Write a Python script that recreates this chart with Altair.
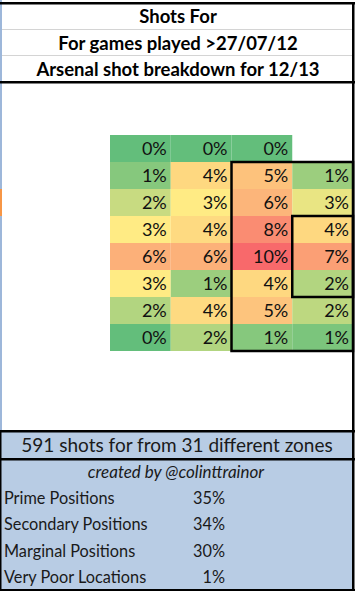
import altair as alt
import pandas as pd

# ---- data ----
titles = ["Shots For", "For games played >27/07/12", "Arsenal shot breakdown for 12/13"]
summary = "591 shots for from 31 different zones"
credit = "created by @colinttrainor"
stat_labels = ["Prime Positions", "Secondary Positions", "Marginal Positions", "Very Poor Locations"]
stat_values = [35, 34, 30, 1]

# shot share (%) per zone, rows top->bottom, cols left->right (None = no zone)
zone_pct = [
    [0.17, 0.17, 0.17, None],
    [0.8, 4.0, 5.2, 1.2],
    [2.0, 3.0, 5.9, 2.6],
    [3.0, 3.9, 8.1, 4.0],
    [6.2, 6.1, 10.0, 7.1],
    [3.0, 1.2, 4.0, 1.6],
    [1.6, 3.9, 5.1, 1.8],
    [0.17, 1.6, 0.8, 0.6],
]
# outlined zone groups in grid units: col0, col1, row0, row1
boxes_c0 = [2, 3]
boxes_c1 = [4, 4]
boxes_r0 = [1, 3]
boxes_r1 = [8, 6]

cells = pd.DataFrame(
    [{"row": r, "col": c, "pct": v}
     for r, rowv in enumerate(zone_pct) for c, v in enumerate(rowv) if v is not None]
)
boxes = pd.DataFrame({"c0": boxes_c0, "c1": boxes_c1, "r0": boxes_r0, "r1": boxes_r1})

FONT = "Lato"
W, H = 357, 593

xs = alt.Scale(domain=[0, 4], range=[110, 353], nice=False, zero=False)
ys = alt.Scale(domain=[0, 8], range=[135, 351], nice=False, zero=False)

dummy = pd.DataFrame({"a": [0]})


def block(x1, x2, y1, y2, color):
    return alt.Chart(dummy).mark_rect(color=color).encode(
        x=alt.value(x1), x2=alt.value(x2), y=alt.value(y1), y2=alt.value(y2)
    )


BLUE = "#B8CCE4"
decor = alt.layer(
    block(0, 354, 431, 590, BLUE),
    block(0, 2, 0, 431, "#9DB7DA"),
    block(0, 2, 189, 216, "#F79646"),
)
lines = alt.layer(
    block(0, 355, 2, 4.5, "black"),
    block(0, 355, 81, 83.5, "black"),
    block(2, 353, 29, 30, "#D4D4D4"),
    block(2, 353, 55, 56, "#D4D4D4"),
    block(352, 354.5, 2, 591, "black"),
    block(0, 355, 430, 432.5, "black"),
    block(0, 355, 458, 460.5, "black"),
    block(0, 355, 589, 591, "black"),
    block(0, 1.5, 431, 591, "black"),
)

rect = alt.Chart(cells).transform_calculate(x2="datum.col + 1", y2="datum.row + 1").mark_rect().encode(
    x=alt.X("col:Q", scale=xs, axis=None),
    x2="x2:Q",
    y=alt.Y("row:Q", scale=ys, axis=None),
    y2="y2:Q",
    color=alt.Color(
        "pct:Q",
        scale=alt.Scale(domain=[0.17, 3.0, 10.0], range=["#63BE7B", "#FFEB84", "#F8696B"], interpolate="rgb"),
        legend=None,
    ),
)
cell_text = alt.Chart(cells).transform_calculate(
    xr="datum.col + 1", ym="datum.row + 0.5", label="format(datum.pct / 100, '.0%')"
).mark_text(align="right", baseline="middle", dx=-4, dy=1, font=FONT, fontSize=18, color="#111111").encode(
    x=alt.X("xr:Q", scale=xs, axis=None),
    y=alt.Y("ym:Q", scale=ys, axis=None),
    text="label:N",
)
box_marks = alt.Chart(boxes).mark_rect(fill=None, stroke="black", strokeWidth=2.5).encode(
    x=alt.X("c0:Q", scale=xs, axis=None),
    x2="c1:Q",
    y=alt.Y("r0:Q", scale=ys, axis=None),
    y2="r1:Q",
)
heat = alt.layer(rect, cell_text, box_marks)

hdr = pd.DataFrame({"line": list(range(len(titles))), "text": titles})
header = alt.Chart(hdr).mark_text(font=FONT, fontWeight="bold", fontSize=18.5, baseline="middle", dy=1, color="black").encode(
    x=alt.value(178),
    y=alt.Y("line:O", scale=alt.Scale(domain=[0, 1, 2], range=[3, 82], padding=0.5), axis=None),
    text="text:N",
)

fscale = alt.Scale(domain=[0, 1, 2, 3, 4, 5], range=[432, 590], padding=0.5)
top_df = pd.DataFrame({"line": [0, 1], "text": [summary, credit]})
summ = alt.Chart(top_df).transform_filter("datum.line == 0").mark_text(
    font=FONT, fontSize=19, baseline="middle", dy=1, color="#1a1a1a"
).encode(x=alt.value(177), y=alt.Y("line:O", scale=fscale, axis=None), text="text:N")
cred = alt.Chart(top_df).transform_filter("datum.line == 1").mark_text(
    font=FONT, fontSize=17, fontStyle="italic", baseline="middle", dy=1, color="#1a1a1a"
).encode(x=alt.value(176), y=alt.Y("line:O", scale=fscale, axis=None), text="text:N")
st_df = pd.DataFrame({"line": [2, 3, 4, 5], "label": stat_labels, "value": stat_values})
st_lab = alt.Chart(st_df).mark_text(
    font=FONT, fontSize=16.3, align="left", baseline="middle", dy=1, color="#1a1a1a"
).encode(x=alt.value(4), y=alt.Y("line:O", scale=fscale, axis=None), text="label:N")
st_val = alt.Chart(st_df).transform_calculate(v="datum.value + '%'").mark_text(
    font=FONT, fontSize=16.3, align="right", baseline="middle", dy=1, color="#1a1a1a"
).encode(x=alt.value(225), y=alt.Y("line:O", scale=fscale, axis=None), text="v:N")
footer = alt.layer(summ, cred, st_lab, st_val)

chart = alt.layer(decor, heat, lines, header, footer).resolve_scale(
    x="independent", y="independent"
).properties(width=W, height=H, padding=0, autosize="none", background="white").configure_view(stroke=None)

chart.save("out.html", embed_options={"renderer": "svg", "actions": False})
